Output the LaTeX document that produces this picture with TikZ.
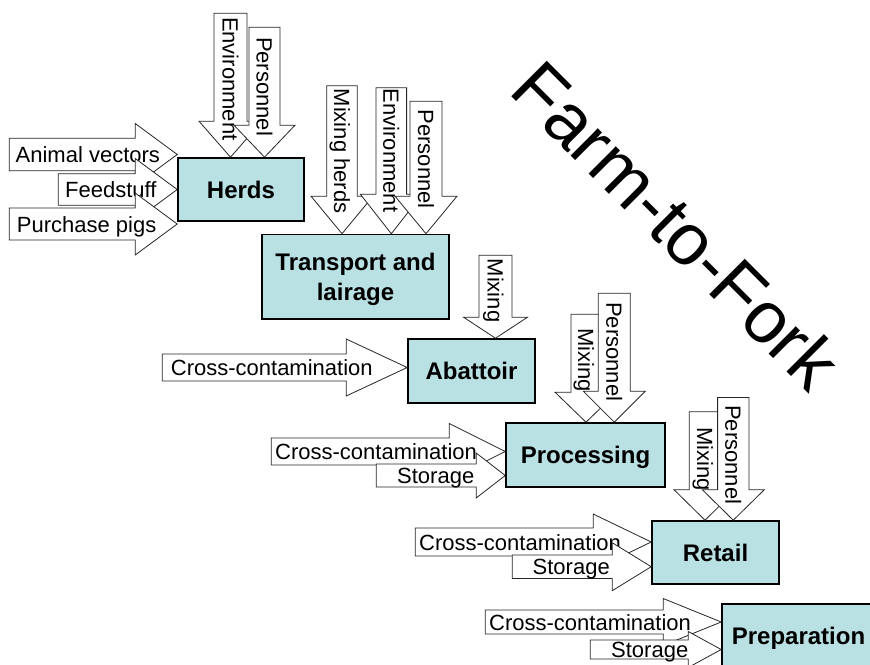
\documentclass[tikz,border=0pt]{standalone}
\usepackage{fontspec}
\setmainfont{Liberation Sans}
\definecolor{stagefill}{RGB}{185,224,227}
% block arrows: tip, half shaft, shaft length, half head, head length
\newcommand{\rightblock}[5]{\draw[inarrow] (#1) -- ++(-#5,-#4) -- ++(0,#4-#2) -- ++(-#3,0) -- ++(0,2*#2) -- ++(#3,0) -- ++(0,#4-#2) -- cycle;}
\newcommand{\downblock}[5]{\draw[inarrow] (#1) -- ++(#4,-#5) -- ++(#2-#4,0) -- ++(0,-#3) -- ++(-2*#2,0) -- ++(0,#3) -- ++(#2-#4,0) -- cycle;}

\begin{document}
\begin{tikzpicture}[x=1pt,y=-1pt]
\begin{scope}
	\tikzstyle{stage}=[draw, line width=1.6pt, fill=stagefill, inner sep=0pt, align=center, text depth=0pt, font=\bfseries\fontsize{24}{29.5}\selectfont]
	\tikzstyle{inarrow}=[draw=black!85, line width=0.8pt, fill=white]
	\tikzstyle{inlabel}=[inner sep=0pt, anchor=base west, font=\fontsize{22}{26}\selectfont]
	\tikzstyle{downlabel}=[inlabel, rotate=-90]
	\useasboundingbox (0,0) rectangle (870,664);
	\clip (0,0) rectangle (870,664);

	\node[stage, minimum width=126pt, minimum height=63pt] (herds) at (241,189.5) {Herds};
	\node[stage, minimum width=187pt, minimum height=84.5pt] (trans) at (355.5,276.75) {Transport and\\lairage};
	\node[stage, minimum width=127pt, minimum height=64pt] (abat) at (471.5,371) {Abattoir};
	\node[stage, minimum width=159pt, minimum height=64pt] (proc) at (585.5,455) {Processing};
	\node[stage, minimum width=127pt, minimum height=63pt] (ret) at (715.5,552.5) {Retail};
	\node[stage, minimum width=153pt, minimum height=64pt] (prep) at (798.5,636) {Preparation};

	% herds
	\downblock{230.5,0 |- herds.north}{16.5}{108}{31.5}{36}
	\node[downlabel] (h1) at (222.5,16.8) {Environment};
	\downblock{264.5,0 |- herds.north}{15.5}{98}{30.5}{32}
	\node[downlabel] (h2) at (256.5,36.8) {Personnel};
	\rightblock{herds.west |- 0,154.5}{16.3}{126}{31}{42}
	\node[inlabel] (h3) at (15.5,162.5) {Animal vectors};
	\rightblock{herds.west |- 0,189.5}{15.7}{77}{31}{42}
	\node[inlabel] (h4) at (65,197.5) {Feedstuff};
	\rightblock{herds.west |- 0,224}{16}{126}{31}{42}
	\node[inlabel] (h5) at (16.7,232) {Purchase pigs};

	% transport and lairage
	\downblock{342,0 |- trans.north}{15.3}{110.5}{31}{37.5}
	\node[downlabel] (t1) at (334,88.5) {Mixing herds};
	\downblock{391.3,0 |- trans.north}{15.3}{106.5}{31}{39.5}
	\node[downlabel] (t2) at (383.3,88.5) {Environment};
	\downblock{426,0 |- trans.north}{16}{95}{31}{37.5}
	\node[downlabel] (t3) at (418,109.5) {Personnel};

	% abattoir
	\downblock{495.5,0 |- abat.north}{16.5}{62}{32}{21}
	\node[downlabel] (a1) at (487.5,258.5) {Mixing};
	\rightblock{abat.west |- 0,367.5}{13.5}{184}{28.5}{61}
	\node[inlabel] (a2) at (170.7,375.5) {Cross-contamination};

	% processing
	\downblock{586,0 |- proc.north}{15}{78}{31}{30}
	\node[downlabel] (p1) at (578,328) {Mixing};
	\downblock{614.3,0 |- proc.north}{16}{98}{31}{31}
	\node[downlabel] (p2) at (606.3,302) {Personnel};
	\rightblock{proc.west |- 0,451.5}{13.5}{178}{28}{56}
	\node[inlabel] (p3) at (275,459.5) {Cross-contamination};
	\rightblock{proc.west |- 0,475.5}{11.5}{100}{22.5}{29}
	\node[inlabel] (p4) at (397,483.5) {Storage};

	% retail
	\downblock{705,0 |- ret.north}{15.7}{78}{31}{30.5}
	\node[downlabel] (r1) at (697,427) {Mixing};
	\downblock{733.3,0 |- ret.north}{15.7}{92.2}{31}{30.5}
	\node[downlabel] (r2) at (725.3,405) {Personnel};
	\rightblock{ret.west |- 0,542}{14}{178}{28}{58}
	\node[inlabel] (r3) at (419,550) {Cross-contamination};
	\rightblock{ret.west |- 0,566.7}{11.7}{100}{24}{39}
	\node[inlabel] (r4) at (532.5,574.7) {Storage};

	% preparation
	\rightblock{prep.west |- 0,622}{12}{178}{23.5}{58}
	\node[inlabel] (q1) at (489,630) {Cross-contamination};
	\rightblock{prep.west |- 0,649.5}{9.5}{98}{18}{33}
	\node[inlabel] (q2) at (611,657.5) {Storage};

	\node[inlabel, rotate=-45, font=\fontsize{73}{80}\selectfont] (title) at (507.6,92.6) {Farm-to-Fork};
\end{scope}
\end{tikzpicture}
\end{document}
